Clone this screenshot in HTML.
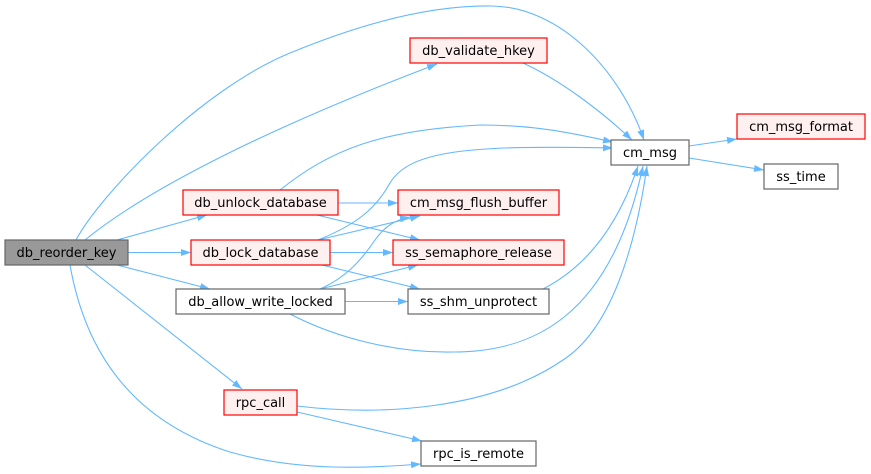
<!DOCTYPE html>
<html><head><meta charset="utf-8"><style>
html,body{margin:0;padding:0;background:#fff;}
svg{display:block;}
text{font-family:"DejaVu Sans","Liberation Sans",sans-serif;font-size:13px;fill:#000;text-anchor:middle;}
.e{fill:none;stroke:#63b8ff;stroke-width:1.1;}
.r{fill:#fff0f0;stroke:#ff0000;stroke-width:1.2;}
.w{fill:#ffffff;stroke:#666666;stroke-width:1.2;}
.g{fill:#999999;stroke:#666666;stroke-width:1.2;}
</style></head><body>
<svg width="871" height="474" viewBox="0 0 871 474" xmlns="http://www.w3.org/2000/svg">
<defs>
<marker id="a" viewBox="0 0 10 7" refX="10" refY="3.5" markerWidth="10" markerHeight="7" markerUnits="userSpaceOnUse" orient="auto">
<path d="M0,0 L10,3.5 L0,7 z" fill="#63b8ff"/>
</marker>
</defs>
<g marker-end="url(#a)">
<path class="e" d="M76,240 C100,195 200,90 290,53 C360,24 430,5 492,6 C560,7 620,70 644,140"/>
<path class="e" d="M85,240 C140,195 250,135 437,64"/>
<path class="e" d="M523,63 C560,80 600,110 632,140"/>
<path class="e" d="M117,240 L207,215"/>
<path class="e" d="M128,252.5 L191,252.5"/>
<path class="e" d="M117,265 L210,289"/>
<path class="e" d="M85,265 L242,389"/>
<path class="e" d="M70,265 C85,350 130,420 230,452 C300,472 370,468 421,464"/>
<path class="e" d="M280,190 C330,150 380,130 481,125 C540,125 580,135 613,142"/>
<path class="e" d="M318,240 C355,225 375,210 390,183 C410,150 470,145 613,148"/>
<path class="e" d="M338,203 L398,203"/>
<path class="e" d="M317,215 L420,240"/>
<path class="e" d="M318,240 L420,216"/>
<path class="e" d="M330,252.5 L393,252.5"/>
<path class="e" d="M318,264 L420,289"/>
<path class="e" d="M320,289 C345,278 360,262 375,240 C385,226 395,220 410,217"/>
<path class="e" d="M320,289 L418,265"/>
<path class="e" d="M345,301.5 L408,301.5"/>
<path class="e" d="M290,314 C340,340 400,353 453,352 C530,352 610,320 643,166"/>
<path class="e" d="M543,289 C590,265 620,220 638,166"/>
<path class="e" d="M297,406 C380,416 490,410 563,360 C610,330 635,250 647,166"/>
<path class="e" d="M297,412 L422,441"/>
<path class="e" d="M689,146 L737,139"/>
<path class="e" d="M689,158 L764,170"/>
</g>
<rect class="g" x="5" y="240" width="123" height="25"/><text x="66.5" y="257">db_reorder_key</text>
<rect class="r" x="410" y="38" width="137" height="25"/><text x="478.5" y="55">db_validate_hkey</text>
<rect class="r" x="183" y="190" width="155" height="25"/><text x="260.5" y="207">db_unlock_database</text>
<rect class="r" x="191" y="240" width="139" height="25"/><text x="260.5" y="257">db_lock_database</text>
<rect class="w" x="176" y="289" width="169" height="25"/><text x="260.5" y="306">db_allow_write_locked</text>
<rect class="r" x="224" y="390" width="73" height="25"/><text x="260.5" y="407">rpc_call</text>
<rect class="w" x="421" y="441" width="115" height="25"/><text x="478.5" y="458">rpc_is_remote</text>
<rect class="w" x="611" y="140" width="78" height="25"/><text x="650" y="157">cm_msg</text>
<rect class="r" x="398" y="190" width="161" height="25"/><text x="478.5" y="207">cm_msg_flush_buffer</text>
<rect class="r" x="393" y="240" width="171" height="25"/><text x="478.5" y="257">ss_semaphore_release</text>
<rect class="w" x="408" y="289" width="141" height="25"/><text x="478.5" y="306">ss_shm_unprotect</text>
<rect class="r" x="737" y="114" width="128" height="25"/><text x="801" y="131">cm_msg_format</text>
<rect class="w" x="764" y="164" width="74" height="25"/><text x="801" y="181">ss_time</text>
</svg>
</body></html>
